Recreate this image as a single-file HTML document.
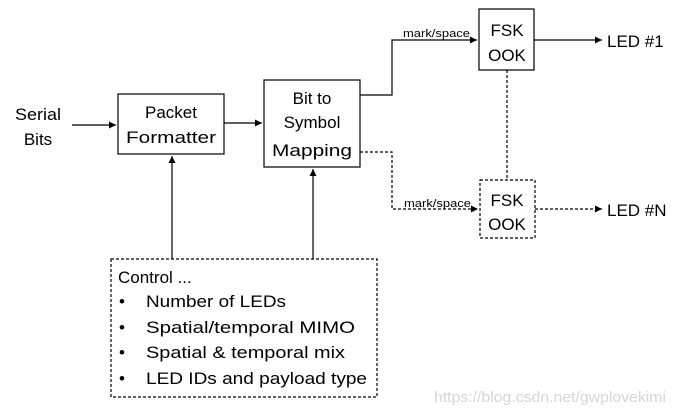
<!DOCTYPE html>
<html><head><meta charset="utf-8"><style>
html,body{margin:0;padding:0;background:#fff}
svg{display:block}
text{font-family:"Liberation Sans",sans-serif;fill:#000}
</style></head><body>
<svg width="674" height="412" viewBox="0 0 674 412" xmlns="http://www.w3.org/2000/svg">
<defs>
<marker id="a" markerWidth="8" markerHeight="8" refX="7" refY="4" orient="auto" markerUnits="userSpaceOnUse">
<path d="M0,0.5 L7,4 L0,7.5 z" fill="#000"/></marker>
</defs>
<g stroke="#000" stroke-width="1.2" fill="none">
<rect x="118" y="94" width="106" height="60"/>
<rect x="264" y="80" width="96" height="87"/>
<rect x="479" y="9" width="55" height="61"/>
<rect x="480" y="180" width="55" height="58" stroke-dasharray="3,2"/>
<rect x="111" y="259" width="266" height="138" stroke-dasharray="3,2"/>
<line x1="72" y1="125" x2="116" y2="125" marker-end="url(#a)"/>
<line x1="224" y1="123" x2="262" y2="123" marker-end="url(#a)"/>
<line x1="172" y1="259" x2="172" y2="156" marker-end="url(#a)"/>
<line x1="313" y1="259" x2="313" y2="169" marker-end="url(#a)"/>
<polyline points="360,95 392,95 392,40 477,40" marker-end="url(#a)"/>
<line x1="534" y1="40" x2="602" y2="40" marker-end="url(#a)"/>
<polyline points="360,152 392,152 392,209 478,209" stroke-dasharray="3,2" marker-end="url(#a)"/>
<line x1="535" y1="209" x2="602" y2="209" stroke-dasharray="3,2" marker-end="url(#a)"/>
<line x1="507" y1="70" x2="507" y2="180" stroke-dasharray="3,2"/>
</g>
<g font-size="17">
<text x="38" y="120" text-anchor="middle" textLength="46" lengthAdjust="spacingAndGlyphs">Serial</text>
<text x="38" y="145" text-anchor="middle">Bits</text>
<text x="171" y="118" text-anchor="middle">Packet</text>
<text x="171" y="143" text-anchor="middle" textLength="90" lengthAdjust="spacingAndGlyphs">Formatter</text>
<text x="312" y="104" text-anchor="middle">Bit to</text>
<text x="312" y="128" text-anchor="middle">Symbol</text>
<text x="312" y="156" text-anchor="middle" textLength="80" lengthAdjust="spacingAndGlyphs">Mapping</text>
<text x="507" y="36" text-anchor="middle">FSK</text>
<text x="507" y="61" text-anchor="middle">OOK</text>
<text x="507" y="206" text-anchor="middle">FSK</text>
<text x="507" y="230" text-anchor="middle">OOK</text>
<text x="607" y="47">LED #1</text>
<text x="607" y="216">LED #N</text>
<text x="118" y="283">Control ...</text>
<text x="146" y="307" textLength="140" lengthAdjust="spacingAndGlyphs">Number of LEDs</text>
<text x="146" y="333" textLength="209" lengthAdjust="spacingAndGlyphs">Spatial/temporal MIMO</text>
<text x="146" y="358" textLength="199" lengthAdjust="spacingAndGlyphs">Spatial &amp; temporal mix</text>
<text x="146" y="384" textLength="221" lengthAdjust="spacingAndGlyphs">LED IDs and payload type</text>
<text x="119" y="307">•</text>
<text x="119" y="333">•</text>
<text x="119" y="358">•</text>
<text x="119" y="384">•</text>
</g>
<text x="403" y="37" font-size="11" textLength="67" lengthAdjust="spacingAndGlyphs">mark/space</text>
<text x="404" y="257" font-size="11" textLength="67" lengthAdjust="spacingAndGlyphs" transform="translate(0,-50)">mark/space</text>
<text x="434" y="402" font-size="15" style="fill:#d6d6d6" textLength="232" lengthAdjust="spacingAndGlyphs">https://blog.csdn.net/gwplovekimi</text>
</svg>
</body></html>
